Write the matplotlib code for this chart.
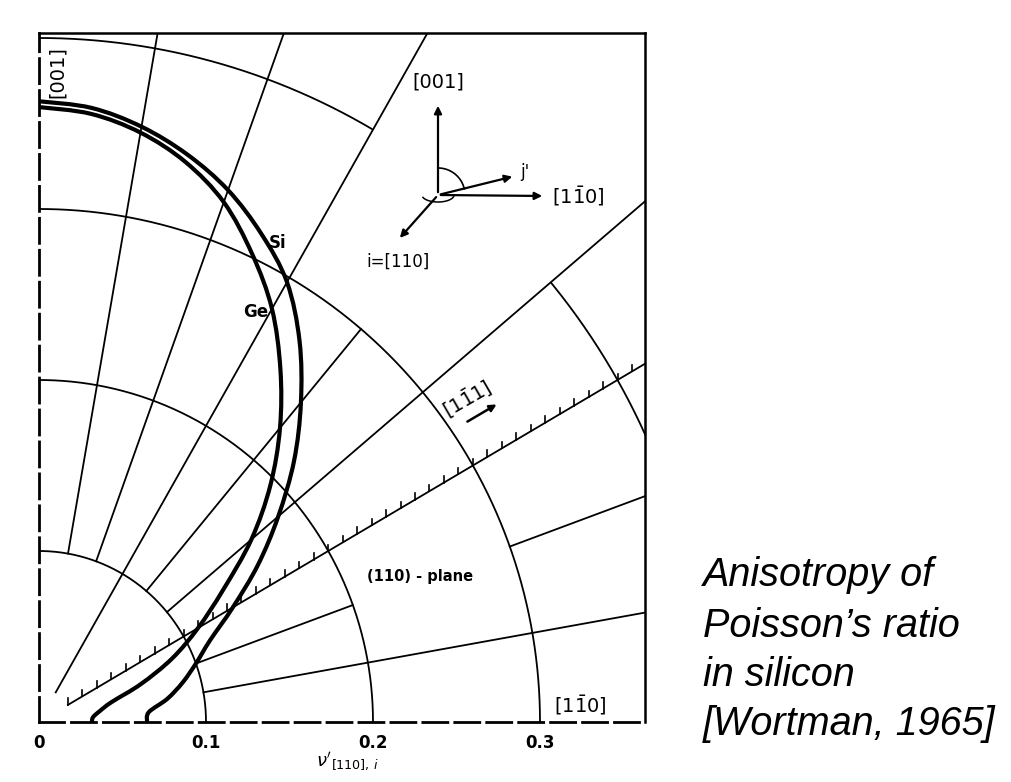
import numpy as np
import matplotlib
matplotlib.use("Agg")
import matplotlib.pyplot as plt
from matplotlib.path import Path
from matplotlib.patches import PathPatch, FancyArrowPatch
from matplotlib.lines import Line2D

# ---------------- data ----------------
# Poisson's ratio nu'([110], j') as polar curves: angle of j' measured from [1-10] towards [001]
si_theta_deg = [90, 85, 80, 75, 70, 65, 60, 55, 50, 45, 40, 35, 30, 25, 20, 15, 10, 5, 0]
si_nu = [0.363, 0.3605, 0.3535, 0.3435, 0.331, 0.315, 0.297, 0.272, 0.244, 0.216, 0.187,
         0.160, 0.134, 0.113, 0.100, 0.089, 0.078, 0.066, 0.0647]

ge_theta_deg = [90, 85, 80, 75, 70, 65, 60, 55, 50, 45, 40, 35, 30, 25, 20, 15, 10, 5, 0]
ge_nu = [0.3596, 0.357, 0.350, 0.339, 0.3235, 0.302, 0.279, 0.252, 0.2245, 0.196, 0.166,
         0.1345, 0.110, 0.088, 0.065, 0.045, 0.037, 0.0325, 0.0317]

# polar grid: circles (radius -> angular spans in degrees)
circle_radii = [0.1, 0.2, 0.3, 0.4]
circle_spans = [[(0, 90)], [(0, 90)], [(0, 90)], [(0, 40), (60, 90)]]

# radial grid lines (angle -> radial spans); 0.6 = run out to the frame
radial_angles = [10, 20, 30, 40, 50, 60, 70, 80]
radial_spans = [[(0.1, 0.6)], [(0.1, 0.2), (0.3, 0.6)], [(0.02, 0.6)], [(0.1, 0.6)],
                [(0.1, 0.3)], [(0.02, 0.6)], [(0.1, 0.6)], [(0.1, 0.6)]]

# scale ticks along the [1-11] direction
scale_angle = 30
scale_ticks = [round(0.02 + 0.01 * k, 2) for k in range(40)]

x_ticks = [0.0, 0.1, 0.2, 0.3]
x_tick_labels = ["0", "0.1", "0.2", "0.3"]

caption_lines = ["Anisotropy of", "Poisson\u2019s ratio", "in silicon", "[Wortman, 1965]"]

# ---------------- figure ----------------
W, H = 1012, 782
fig = plt.figure(figsize=(W / 100, H / 100), dpi=100)
ax = fig.add_axes([39 / W, 60 / H, 606 / W, 689 / H])
ax.set_xlim(0, 606 / 1670)
ax.set_ylim(0, 689 / 1710)

ink = "black"
grid_lw = 1.3

for r, spans in zip(circle_radii, circle_spans):
    for a0, a1 in spans:
        t = np.radians(np.linspace(a0, a1, 300))
        ax.plot(r * np.cos(t), r * np.sin(t), color=ink, lw=grid_lw, solid_capstyle="butt")

for ang, spans in zip(radial_angles, radial_spans):
    c, s = np.cos(np.radians(ang)), np.sin(np.radians(ang))
    for r0, r1 in spans:
        ax.plot([r0 * c, r1 * c], [r0 * s, r1 * s], color=ink, lw=grid_lw)

# ticks on the [1-11] line (short vertical strokes)
c, s = np.cos(np.radians(scale_angle)), np.sin(np.radians(scale_angle))
for r in scale_ticks:
    ax.plot([r * c, r * c], [r * s, r * s + 0.0038], color=ink, lw=1.2)


def smooth_path(xs, ys):
    """Catmull-Rom style cubic path running through every data point."""
    pts = np.column_stack([xs, ys])
    n = len(pts)
    verts, codes = [pts[0]], [Path.MOVETO]
    for i in range(n - 1):
        p0 = pts[i - 1] if i > 0 else pts[i]
        p1, p2 = pts[i], pts[i + 1]
        p3 = pts[i + 2] if i + 2 < n else pts[i + 1]
        verts += [p1 + (p2 - p0) / 6, p2 - (p3 - p1) / 6, p2]
        codes += [Path.CURVE4] * 3
    return Path(verts, codes)


for th, nu in [(si_theta_deg, si_nu), (ge_theta_deg, ge_nu)]:
    t = np.radians(th)
    nu = np.array(nu)
    ax.add_patch(PathPatch(smooth_path(nu * np.cos(t), nu * np.sin(t)), fill=False,
                           edgecolor=ink, lw=3.0, capstyle="butt", joinstyle="round"))

# frame
for side in ["top", "right"]:
    ax.spines[side].set_linewidth(1.8)
for side in ["left", "bottom"]:
    ax.spines[side].set_linewidth(2.0)
    ax.spines[side].set_linestyle((0, (9, 2.5)))

ax.set_xticks(x_ticks)
ax.set_xticklabels(x_tick_labels, fontsize=12, fontweight="bold")
ax.tick_params(axis="x", length=0, pad=9)
ax.set_yticks([])

# ---------------- annotations (pixel positions of the reference) ----------------
def fx(px):
    return px / W

def fy(py):
    return 1 - py / H

tk = dict(color=ink, ha="center", va="center")
fig.text(fx(57), fy(72), "[001]", rotation=90, fontsize=14, **tk)
fig.text(fx(438), fy(82), "[001]", fontsize=14, **tk)
fig.text(fx(525), fy(172), "j'", fontsize=12, **tk)
fig.text(fx(578), fy(196), r"$[1\bar{1}0]$", fontsize=14, **tk)
fig.text(fx(398), fy(262), "i=[110]", fontsize=12, **tk)
fig.text(fx(278), fy(243), "Si", fontsize=12, fontweight="bold", **tk)
fig.text(fx(256), fy(312), "Ge", fontsize=12, fontweight="bold", **tk)
fig.text(fx(467), fy(398), r"$[1\bar{1}1]$", fontsize=14, rotation=30, **tk)
fig.text(fx(420), fy(577), "(110) - plane", fontsize=10.5, fontweight="bold", **tk)
fig.text(fx(580), fy(705), r"$[1\bar{1}0]$", fontsize=14, **tk)
fig.text(fx(316), fy(766), r"$\nu'_{[110],\,i}$", fontsize=13, ha="left", va="baseline")

# inset direction diagram
ox, oy = 438, 195
arrow_tips = [(438, 103), (545, 196), (515, 176), (398, 240)]
for tx_, ty_ in arrow_tips:
    fig.add_artist(FancyArrowPatch(
        (fx(ox), fy(oy)), (fx(tx_), fy(ty_)), transform=fig.transFigure,
        arrowstyle="-|>", mutation_scale=11, lw=1.6, color=ink))
# angle arcs
a = np.radians(np.linspace(13, 90, 60))
fig.add_artist(Line2D(fx(ox + 27 * np.cos(a)), fy(oy - 27 * np.sin(a)),
                      transform=fig.transFigure, color=ink, lw=1.2))
a = np.radians(np.linspace(200, 350, 60))
fig.add_artist(Line2D(fx(ox + 16 * np.cos(a)), fy(oy - 7 * np.sin(a)),
                      transform=fig.transFigure, color=ink, lw=1.1))
# arrow next to [1-11]
fig.add_artist(FancyArrowPatch(
    (fx(465), fy(423)), (fx(499), fy(403)), transform=fig.transFigure,
    arrowstyle="-|>", mutation_scale=10, lw=1.8, color=ink))

# caption
for i, line in enumerate(caption_lines):
    fig.text(fx(703), fy([586, 637, 686, 735][i]), line, fontsize=28.5, style="italic",
             family="Liberation Sans", ha="left", va="baseline", color=ink)

fig.savefig("out.png", dpi=100)
